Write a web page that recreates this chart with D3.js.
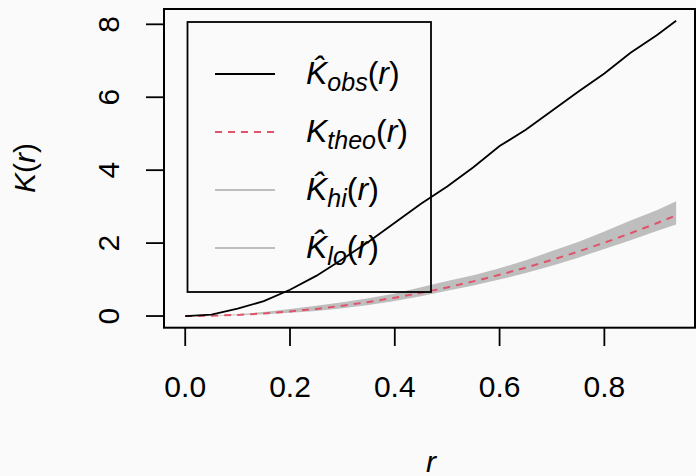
<!DOCTYPE html>
<html>
<head>
<meta charset="utf-8">
<script src="https://cdnjs.cloudflare.com/ajax/libs/d3/7.8.5/d3.min.js"></script>
<style>
  html, body { margin: 0; background: #fafafa; }
  svg { display: block; font-family: "Liberation Sans", Arial, sans-serif; }
</style>
</head>
<body>
<svg id="chart" width="696" height="476"></svg>
<script>
// distances r and the curves
var rVals  = [0, 0.05, 0.10, 0.15, 0.20, 0.25, 0.30, 0.35, 0.40, 0.45, 0.50, 0.55, 0.60, 0.65, 0.70, 0.75, 0.80, 0.85, 0.90, 0.937];
var kObs   = [0, 0.04, 0.20, 0.41, 0.72, 1.10, 1.56, 2.04, 2.56, 3.08, 3.55, 4.08, 4.66, 5.11, 5.63, 6.15, 6.65, 7.22, 7.70, 8.10];
var kTheo  = [0, 0.008, 0.031, 0.071, 0.126, 0.196, 0.283, 0.385, 0.503, 0.636, 0.785, 0.950, 1.131, 1.327, 1.539, 1.767, 2.011, 2.270, 2.545, 2.758];
var kHi    = [0, 0.012, 0.05, 0.11, 0.19, 0.28, 0.38, 0.49, 0.62, 0.79, 0.96, 1.12, 1.31, 1.53, 1.78, 2.03, 2.32, 2.62, 2.90, 3.15];
var kLo    = [0, 0.005, 0.02, 0.05, 0.09, 0.14, 0.21, 0.30, 0.41, 0.54, 0.69, 0.84, 1.00, 1.18, 1.38, 1.60, 1.84, 2.08, 2.33, 2.51];
var xTicks = [0, 0.2, 0.4, 0.6, 0.8];
var yTicks = [0, 2, 4, 6, 8];
var legendSubs = ["obs", "theo", "hi", "lo"];

var svg = d3.select("#chart");
var x = d3.scaleLinear().domain([-0.0405, 0.973]).range([164, 695]);
var y = d3.scaleLinear().domain([-0.32, 8.42]).range([327.7, 9]);

var pts = rVals.map(function (r, i) {
  return {r: r, obs: kObs[i], theo: kTheo[i], hi: kHi[i], lo: kLo[i]};
});

// envelope band
svg.append("path")
  .datum(pts)
  .attr("fill", "#bebebe")
  .attr("d", d3.area().x(function (d) { return x(d.r); })
    .y0(function (d) { return y(d.lo); })
    .y1(function (d) { return y(d.hi); }));

// theoretical curve
svg.append("path")
  .datum(pts)
  .attr("fill", "none")
  .attr("stroke", "#df536b")
  .attr("stroke-width", 2)
  .attr("stroke-dasharray", "7,6")
  .attr("d", d3.line().x(function (d) { return x(d.r); }).y(function (d) { return y(d.theo); }));

// observed curve
svg.append("path")
  .datum(pts)
  .attr("fill", "none")
  .attr("stroke", "#000")
  .attr("stroke-width", 1.8)
  .attr("d", d3.line().x(function (d) { return x(d.r); }).y(function (d) { return y(d.obs); }));

// plot box
svg.append("rect")
  .attr("x", 164).attr("y", 9)
  .attr("width", 531).attr("height", 318.7)
  .attr("fill", "none").attr("stroke", "#000").attr("stroke-width", 2);

// x axis
var xAxis = svg.append("g");
xAxis.selectAll("line").data(xTicks).enter().append("line")
  .attr("x1", function (d) { return x(d); }).attr("x2", function (d) { return x(d); })
  .attr("y1", 327.7).attr("y2", 346)
  .attr("stroke", "#000").attr("stroke-width", 1.8);
xAxis.selectAll("text").data(xTicks).enter().append("text")
  .attr("x", function (d) { return x(d); }).attr("y", 397)
  .attr("text-anchor", "middle")
  .attr("font-size", 30)
  .text(function (d) { return d3.format(".1f")(d); });

// y axis
var yAxis = svg.append("g");
yAxis.selectAll("line").data(yTicks).enter().append("line")
  .attr("x1", 146).attr("x2", 164)
  .attr("y1", function (d) { return y(d); }).attr("y2", function (d) { return y(d); })
  .attr("stroke", "#000").attr("stroke-width", 1.8);
yAxis.selectAll("text").data(yTicks).enter().append("text")
  .attr("transform", function (d) { return "translate(119," + y(d) + ") rotate(-90)"; })
  .attr("text-anchor", "middle")
  .attr("font-size", 30)
  .text(function (d) { return d; });

// axis titles
var yt = svg.append("text")
  .attr("transform", "translate(35,168) rotate(-90)")
  .attr("text-anchor", "middle")
  .attr("font-size", 30);
yt.append("tspan").attr("font-style", "italic").text("K");
yt.append("tspan").text("(");
yt.append("tspan").attr("font-style", "italic").text("r");
yt.append("tspan").text(")");

svg.append("text")
  .attr("x", 431).attr("y", 472)
  .attr("text-anchor", "middle")
  .attr("font-size", 30).attr("font-style", "italic")
  .text("r");

// legend
var lg = svg.append("g");
lg.append("rect")
  .attr("x", 187.5).attr("y", 22).attr("width", 243.5).attr("height", 270)
  .attr("fill", "none").attr("stroke", "#000").attr("stroke-width", 1.8);

var legendStyles = [
  {stroke: "#000", dash: null, hat: true},
  {stroke: "#df536b", dash: "7,6", hat: false},
  {stroke: "#bebebe", dash: null, hat: true},
  {stroke: "#bebebe", dash: null, hat: true}
];

legendSubs.forEach(function (sub, i) {
  var ly = 74 + i * 58;
  var st = legendStyles[i];
  lg.append("line")
    .attr("x1", 215).attr("x2", 275).attr("y1", ly).attr("y2", ly)
    .attr("stroke", st.stroke).attr("stroke-width", 2)
    .attr("stroke-dasharray", st.dash);
  var t = lg.append("text")
    .attr("x", 306).attr("y", ly + 10)
    .attr("font-size", 32);
  t.append("tspan").attr("font-style", "italic").text(st.hat ? "K\u0302" : "K");
  t.append("tspan").attr("font-style", "italic").attr("font-size", 25).attr("dy", 7).text(sub);
  t.append("tspan").attr("dy", -7).text("(");
  t.append("tspan").attr("font-style", "italic").text("r");
  t.append("tspan").text(")");
});
</script>
</body>
</html>
